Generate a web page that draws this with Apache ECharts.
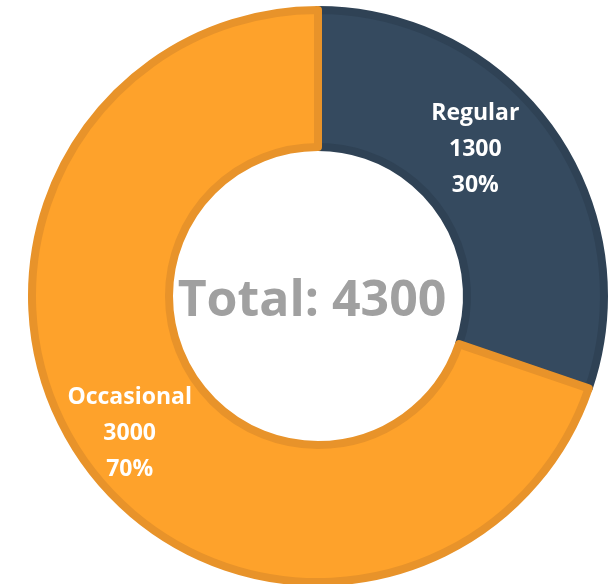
<!DOCTYPE html>
<html>
<head>
<meta charset="utf-8">
<script src="https://cdn.jsdelivr.net/npm/echarts@6/dist/echarts.min.js"></script>
<style>
  html, body { margin: 0; padding: 0; background: #fff; }
  #chart { width: 614px; height: 584px; }
</style>
</head>
<body>
<div id="chart"></div>
<script>
// data
const categories = ['Regular', 'Occasional']
const values = [1300, 3000]
const percents = ['30%', '70%']
const fillColors = ['#354a5f', '#fea22b']
const borderColors = ['#2f4255', '#e8932a']
// label nudges to match the reference placement
const labelOffsets = [[-22, -18], [-9, 9]]

const total = values.reduce((a, b) => a + b, 0)

const chart = echarts.init(document.getElementById('chart'))

const option = {
  animation: false,
  graphic: [
    {
      type: 'text',
      x: 312,
      y: 302,
      style: {
        text: 'Total: ' + total,
        fill: '#a0a0a0',
        font: 'bold 50px "Open Sans"',
        textAlign: 'center',
        textVerticalAlign: 'middle'
      }
    }
  ],
  series: [
    {
      type: 'pie',
      center: [318, 296],
      radius: [149, 286],
      startAngle: 90,
      clockwise: true,
      silent: true,
      data: categories.map((name, i) => ({
        name: name,
        value: values[i],
        itemStyle: {
          color: fillColors[i],
          borderColor: borderColors[i],
          borderWidth: 8
        },
        label: {
          offset: labelOffsets[i]
        }
      })),
      label: {
        show: true,
        position: 'inside',
        color: '#fff',
        fontFamily: 'Open Sans',
        fontWeight: 'bold',
        fontSize: 23,
        lineHeight: 36,
        formatter: (p) => p.name + '\n' + p.value + '\n' + percents[p.dataIndex]
      },
      labelLine: { show: false }
    }
  ]
}

chart.setOption(option)
</script>
</body>
</html>
